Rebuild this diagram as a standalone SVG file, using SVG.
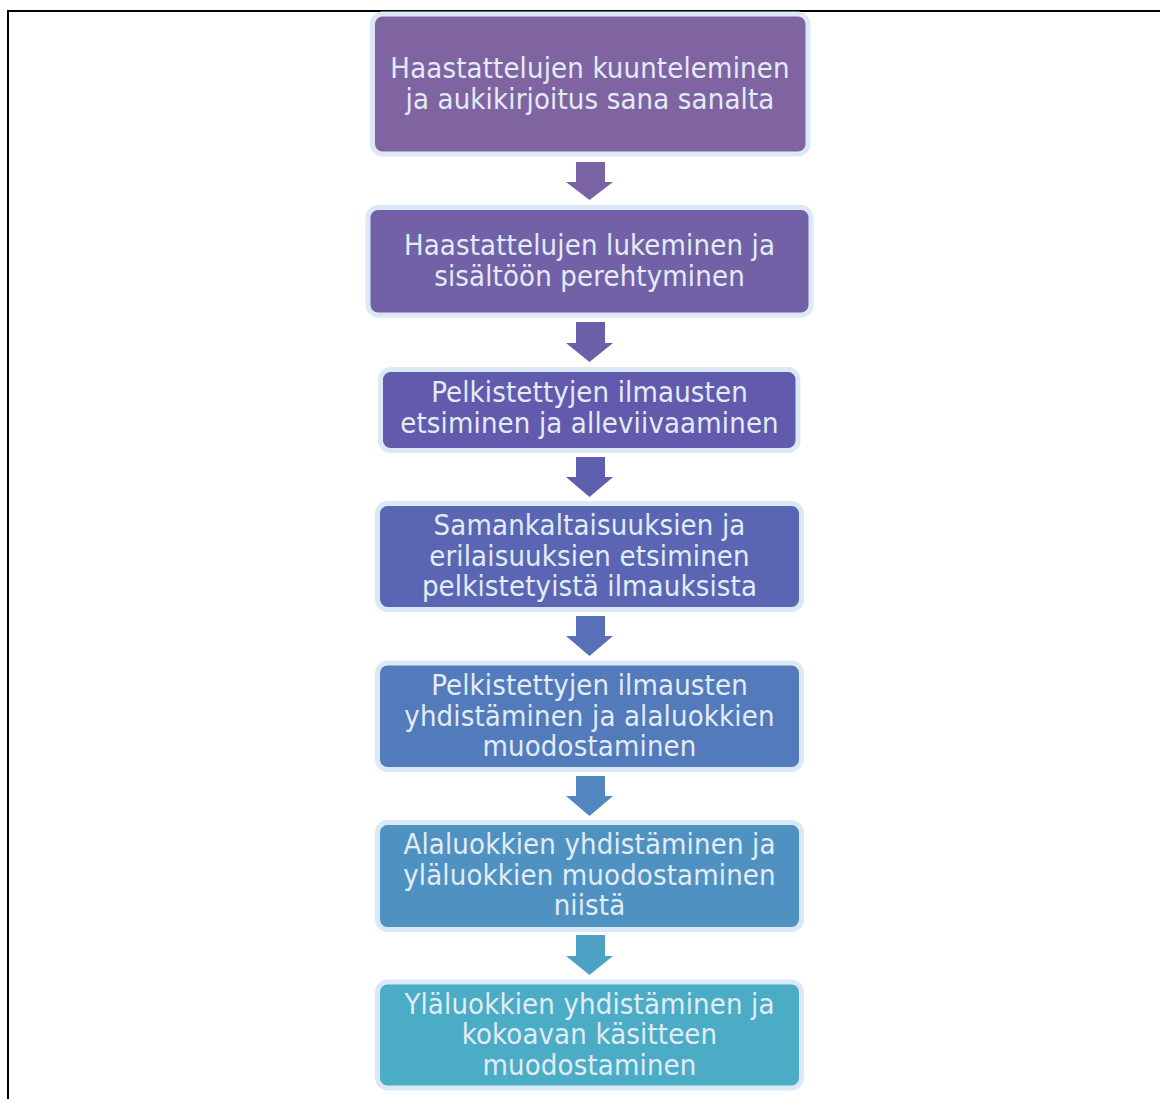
<svg xmlns="http://www.w3.org/2000/svg" width="1160" height="1099" viewBox="0 0 1160 1099">
<style>
.box{stroke:#dbe9f6;stroke-width:5}
.lbl{font-family:"DejaVu Sans Condensed","DejaVu Sans",sans-serif;font-stretch:condensed;font-size:29px;letter-spacing:0.15px;fill:#e2ecf7;text-anchor:middle}
</style>
<rect width="1160" height="1099" fill="#ffffff"/>
<g id="frame" fill="none" stroke="#000" stroke-width="2">
<line x1="8" y1="11" x2="1160" y2="11"/>
<line x1="8" y1="10" x2="8" y2="1099"/>
</g>
<g id="connectors">
<polygon fill="#7a62a5" points="576,162 605,162 605,182 613,182 589.5,200 566,182 576,182"/>
<polygon fill="#6b5eaa" points="576,322 605,322 605,343 613,343 589.5,362 566,343 576,343"/>
<polygon fill="#5e5faf" points="576,457 605,457 605,477 613,477 589.5,497 566,477 576,477"/>
<polygon fill="#5770b7" points="576,616 605,616 605,636 613,636 589.5,656 566,636 576,636"/>
<polygon fill="#5286bf" points="576,776 605,776 605,796 613,796 589.5,816 566,796 576,796"/>
<polygon fill="#4da1c5" points="576,935 605,935 605,956 613,956 589.5,975 566,956 576,956"/>
</g>
<g id="n1">
<rect class="box" x="372.5" y="14" width="435.5" height="140" rx="10" fill="#8064a2"/>
<text class="lbl" x="590" y="78">Haastattelujen kuunteleminen<tspan x="590" dy="31">ja aukikirjoitus sana sanalta</tspan></text>
</g>
<g id="n2">
<rect class="box" x="368" y="207.5" width="443" height="107.5" rx="10" fill="#7361a7"/>
<text class="lbl" x="589.5" y="255">Haastattelujen lukeminen ja<tspan x="589.5" dy="31">sisältöön perehtyminen</tspan></text>
</g>
<g id="n3">
<rect class="box" x="380.5" y="369.5" width="417.5" height="81" rx="10" fill="#625aad"/>
<text class="lbl" x="589.5" y="402">Pelkistettyjen ilmausten<tspan x="589.5" dy="31">etsiminen ja alleviivaaminen</tspan></text>
</g>
<g id="n4">
<rect class="box" x="377.5" y="503.5" width="424" height="106" rx="10" fill="#5a66b3"/>
<text class="lbl" x="589.5" y="535">Samankaltaisuuksien ja<tspan x="589.5" dy="30.7">erilaisuuksien etsiminen</tspan><tspan x="589.5" dy="30.7">pelkistetyistä ilmauksista</tspan></text>
</g>
<g id="n5">
<rect class="box" x="377.5" y="663" width="424" height="106.5" rx="10" fill="#537aba"/>
<text class="lbl" x="589.5" y="695">Pelkistettyjen ilmausten<tspan x="589.5" dy="30.7">yhdistäminen ja alaluokkien</tspan><tspan x="589.5" dy="30.7">muodostaminen</tspan></text>
</g>
<g id="n6">
<rect class="box" x="377.5" y="822.5" width="424" height="107" rx="10" fill="#4f92c2"/>
<text class="lbl" x="589.5" y="854">Alaluokkien yhdistäminen ja<tspan x="589.5" dy="30.5">yläluokkien muodostaminen</tspan><tspan x="589.5" dy="30.5">niistä</tspan></text>
</g>
<g id="n7">
<rect class="box" x="377.5" y="982" width="424" height="106" rx="10" fill="#4bacc6"/>
<text class="lbl" x="589.5" y="1013.5">Yläluokkien yhdistäminen ja<tspan x="589.5" dy="30.5">kokoavan käsitteen</tspan><tspan x="589.5" dy="30.5">muodostaminen</tspan></text>
</g>
</svg>
